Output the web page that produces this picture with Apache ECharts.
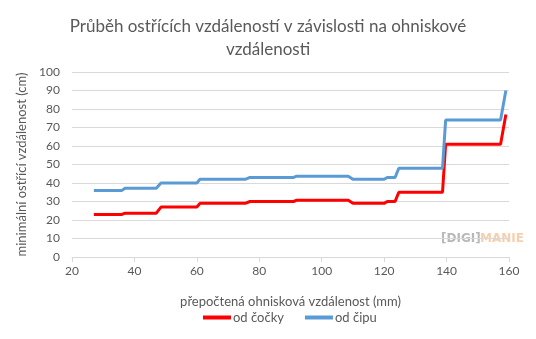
<!DOCTYPE html>
<html><head><meta charset="utf-8">
<script src="https://cdn.jsdelivr.net/npm/echarts@6/dist/echarts.min.js"></script>
<style>html,body{margin:0;padding:0;background:#fff}#c{width:536px;height:339px}</style>
</head><body><div id="c"></div>
<script>
const xValues = [27, 36, 37, 47, 48.5, 60, 61, 75.5, 77, 91, 92, 108.5, 110, 120, 121, 123.5, 124.7, 138.7, 139.7, 157.3, 159];
const odCipu  = [36, 36, 37.2, 37.2, 40, 40, 42, 42, 43, 43, 43.7, 43.7, 42, 42, 43, 43, 48, 48, 74, 74, 90];
const odCocky = [23, 23, 23.7, 23.7, 27, 27, 29, 29, 30, 30, 30.7, 30.7, 29, 29, 30, 30, 35, 35, 61, 61, 77];
const seriesNames = ['od čočky', 'od čipu'];
const titleText = 'Průběh ostřících vzdáleností v závislosti na ohniskové\nvzdálenosti';
const xName = 'přepočtená ohnisková vzdálenost (mm)';
const yName = 'minimální ostřící vzdálenost (cm)';

const font = 'Lato, "Open Sans", sans-serif';
const chart = echarts.init(document.getElementById('c'), null, {renderer: 'canvas'});
chart.setOption({
  animation: false,
  title: {
    text: titleText, left: 'center', top: 10,
    textStyle: {fontFamily: font, fontSize: 17, fontWeight: 'normal', color: '#595959', lineHeight: 23}
  },
  grid: {left: 72, right: 27, top: 72, bottom: 82, containLabel: false},
  legend: {
    bottom: 10, left: 198, itemWidth: 28, itemHeight: 4, itemGap: 21,
    icon: 'rect',
    textStyle: {fontFamily: font, fontSize: 13, color: '#595959', padding: [0, 0, 0, -3]},
    data: seriesNames
  },
  xAxis: {
    type: 'value', min: 20, max: 160, interval: 20,
    name: xName, nameLocation: 'middle', nameGap: 38,
    nameTextStyle: {fontFamily: font, fontSize: 13, color: '#595959'},
    axisLine: {show: true, lineStyle: {color: '#d9d9d9'}},
    axisTick: {show: true, length: 5, lineStyle: {color: '#d9d9d9'}},
    axisLabel: {fontFamily: font, fontSize: 12, color: '#595959', margin: 8},
    splitLine: {show: false}
  },
  yAxis: {
    type: 'value', min: 0, max: 100, interval: 10,
    name: yName, nameLocation: 'middle', nameGap: 39, nameRotate: 90,
    nameTextStyle: {fontFamily: font, fontSize: 13, color: '#595959'},
    axisLine: {show: false}, axisTick: {show: false},
    axisLabel: {fontFamily: font, fontSize: 12, color: '#595959', margin: 12},
    splitLine: {lineStyle: {color: '#d9d9d9', width: 1}}
  },
  series: [
    {name: seriesNames[0], type: 'line', showSymbol: false, symbol: 'none',
     data: xValues.map((x, i) => [x, odCocky[i]]),
     lineStyle: {color: '#ff0000', width: 3}, itemStyle: {color: '#ff0000'}},
    {name: seriesNames[1], type: 'line', showSymbol: false, symbol: 'none',
     data: xValues.map((x, i) => [x, odCipu[i]]),
     lineStyle: {color: '#5b9bd5', width: 3}, itemStyle: {color: '#5b9bd5'}}
  ],
  graphic: [
    {type: 'text', left: 441, top: 233, style: {text: '[DIGI]', fontFamily: 'DejaVu Sans', fontWeight: 'bold', fontSize: 12, fill: '#b8b8b8'}},
    {type: 'text', left: 480, top: 233, style: {text: 'MANIE', fontFamily: 'DejaVu Sans', fontWeight: 'bold', fontSize: 12, fill: '#f6cfae'}}
  ]
});
</script></body></html>
